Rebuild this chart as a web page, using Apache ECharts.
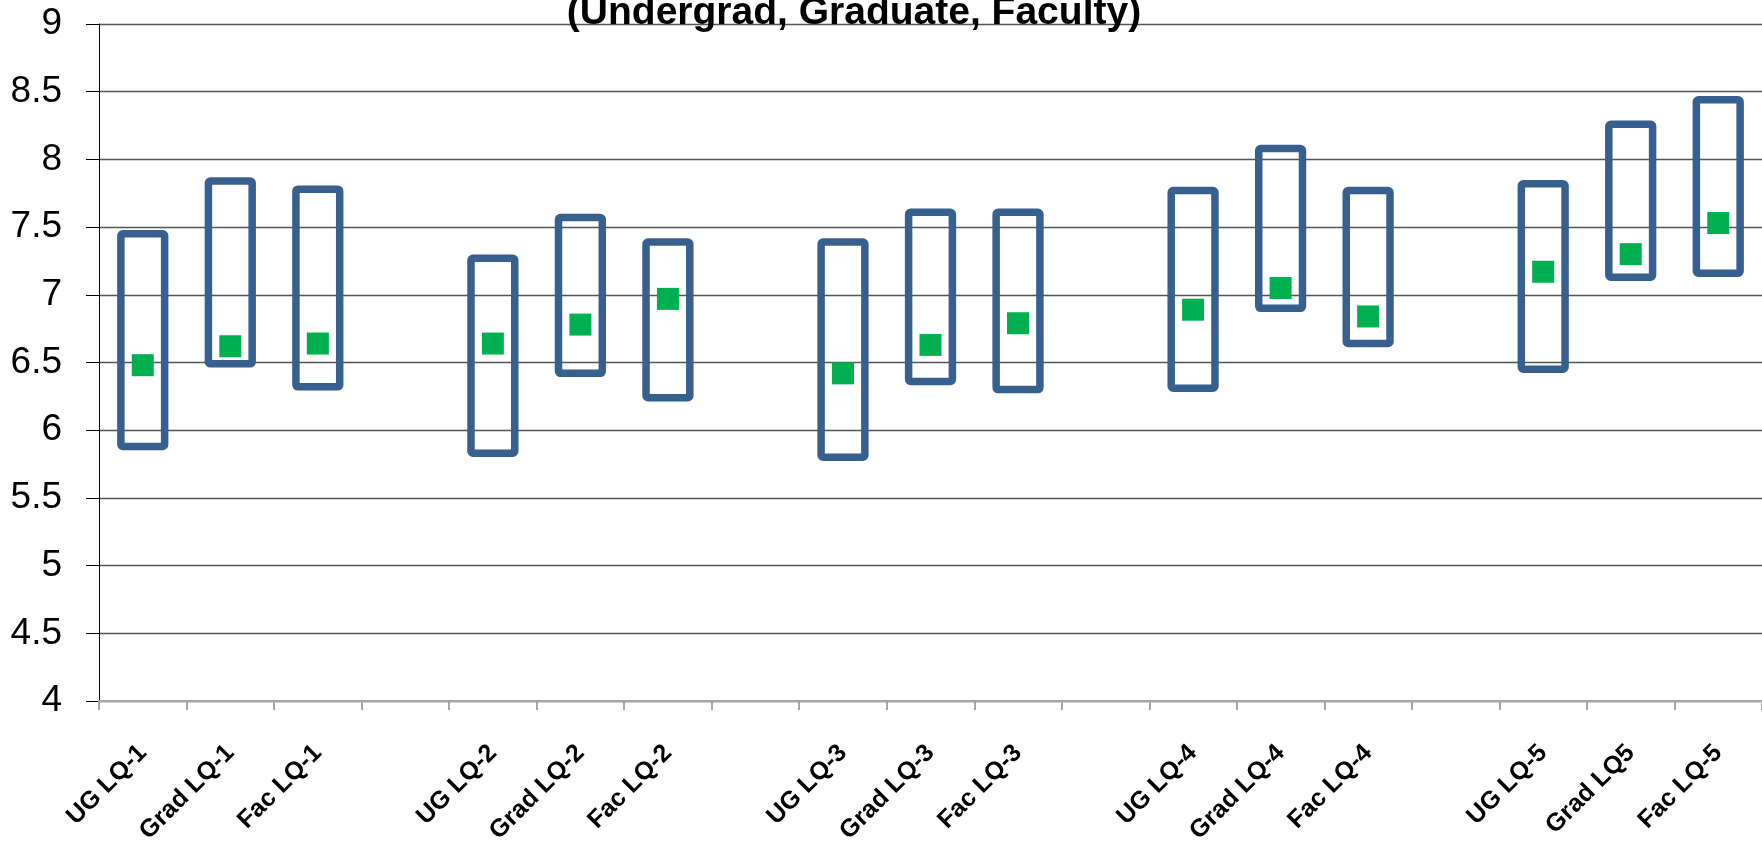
<!DOCTYPE html>
<html>
<head>
<meta charset="utf-8">
<script src="https://cdn.jsdelivr.net/npm/echarts@6/dist/echarts.min.js"></script>
<style>
  html, body { margin: 0; padding: 0; background: #fff; }
  #chart { width: 1762px; height: 848px; }
</style>
</head>
<body>
<div id="chart"></div>
<script>
// categories, blanks separate the five LQ groups
const categories = [
  'UG LQ-1', 'Grad LQ-1', 'Fac LQ-1', '',
  'UG LQ-2', 'Grad LQ-2', 'Fac LQ-2', '',
  'UG LQ-3', 'Grad LQ-3', 'Fac LQ-3', '',
  'UG LQ-4', 'Grad LQ-4', 'Fac LQ-4', '',
  'UG LQ-5', 'Grad LQ5', 'Fac LQ-5'
];
const lowVals  = [5.88, 6.49, 6.32, null, 5.83, 6.42, 6.24, null, 5.80, 6.36, 6.30, null, 6.31, 6.90, 6.64, null, 6.45, 7.13, 7.16];
const highVals = [7.45, 7.84, 7.78, null, 7.27, 7.57, 7.39, null, 7.39, 7.61, 7.61, null, 7.77, 8.08, 7.77, null, 7.82, 8.26, 8.44];
const meanVals = [6.48, 6.62, 6.64, null, 6.64, 6.78, 6.97, null, 6.42, 6.63, 6.79, null, 6.89, 7.05, 6.84, null, 7.17, 7.30, 7.53];

const font = "'Liberation Sans Narrow', 'Arial Narrow', 'Liberation Sans', Arial, sans-serif";

const rangeData = [];
const meanData = [];
categories.forEach((c, i) => {
  if (lowVals[i] != null) rangeData.push([i, lowVals[i], highVals[i]]);
  if (meanVals[i] != null) meanData.push([i, meanVals[i]]);
});

const myChart = echarts.init(document.getElementById('chart'));
const option = {
  animation: false,
  title: {
    text: '(Undergrad, Graduate, Faculty)',
    left: 849,
    textAlign: 'center',
    top: -11,
    textStyle: { fontFamily: font, fontWeight: 'bold', fontSize: 39, color: '#000' }
  },
  grid: { left: 99, right: -3, top: 24, bottom: 147 },
  xAxis: {
    type: 'category',
    data: categories,
    boundaryGap: true,
    axisLine: { lineStyle: { color: '#a6a6a6', width: 2 } },
    axisTick: { show: true, interval: 0, length: 9, lineStyle: { color: '#a6a6a6', width: 2 } },
    axisLabel: {
      interval: 0,
      rotate: 45,
      margin: 48,
      fontFamily: font,
      fontWeight: 'bold',
      fontSize: 25,
      color: '#000'
    },
    splitLine: { show: false }
  },
  yAxis: {
    type: 'value',
    min: 4,
    max: 9,
    interval: 0.5,
    axisLine: { show: true, lineStyle: { color: '#000', width: 1 } },
    axisTick: { show: true, length: 13, lineStyle: { color: '#000' } },
    axisLabel: { margin: 37, fontFamily: font, fontSize: 37, color: '#000' },
    splitLine: { lineStyle: { color: '#555', width: 1.3 } }
  },
  series: [
    {
      type: 'custom',
      data: rangeData,
      encode: { x: 0, y: [1, 2] },
      renderItem: function (params, api) {
        const lo = api.coord([api.value(0), api.value(1)]);
        const hi = api.coord([api.value(0), api.value(2)]);
        const w = api.size([1, 0])[0] * 0.5;
        return {
          type: 'rect',
          shape: { x: lo[0] - w / 2, y: hi[1], width: w, height: lo[1] - hi[1], r: 2 },
          style: { fill: 'none', stroke: '#37608f', lineWidth: 7.5, lineJoin: 'round' }
        };
      },
      z: 2
    },
    {
      type: 'scatter',
      data: meanData,
      symbol: 'rect',
      symbolSize: 22,
      itemStyle: { color: '#00b050', opacity: 1 },
      z: 3
    }
  ]
};
option && myChart.setOption(option);
</script>
</body>
</html>
